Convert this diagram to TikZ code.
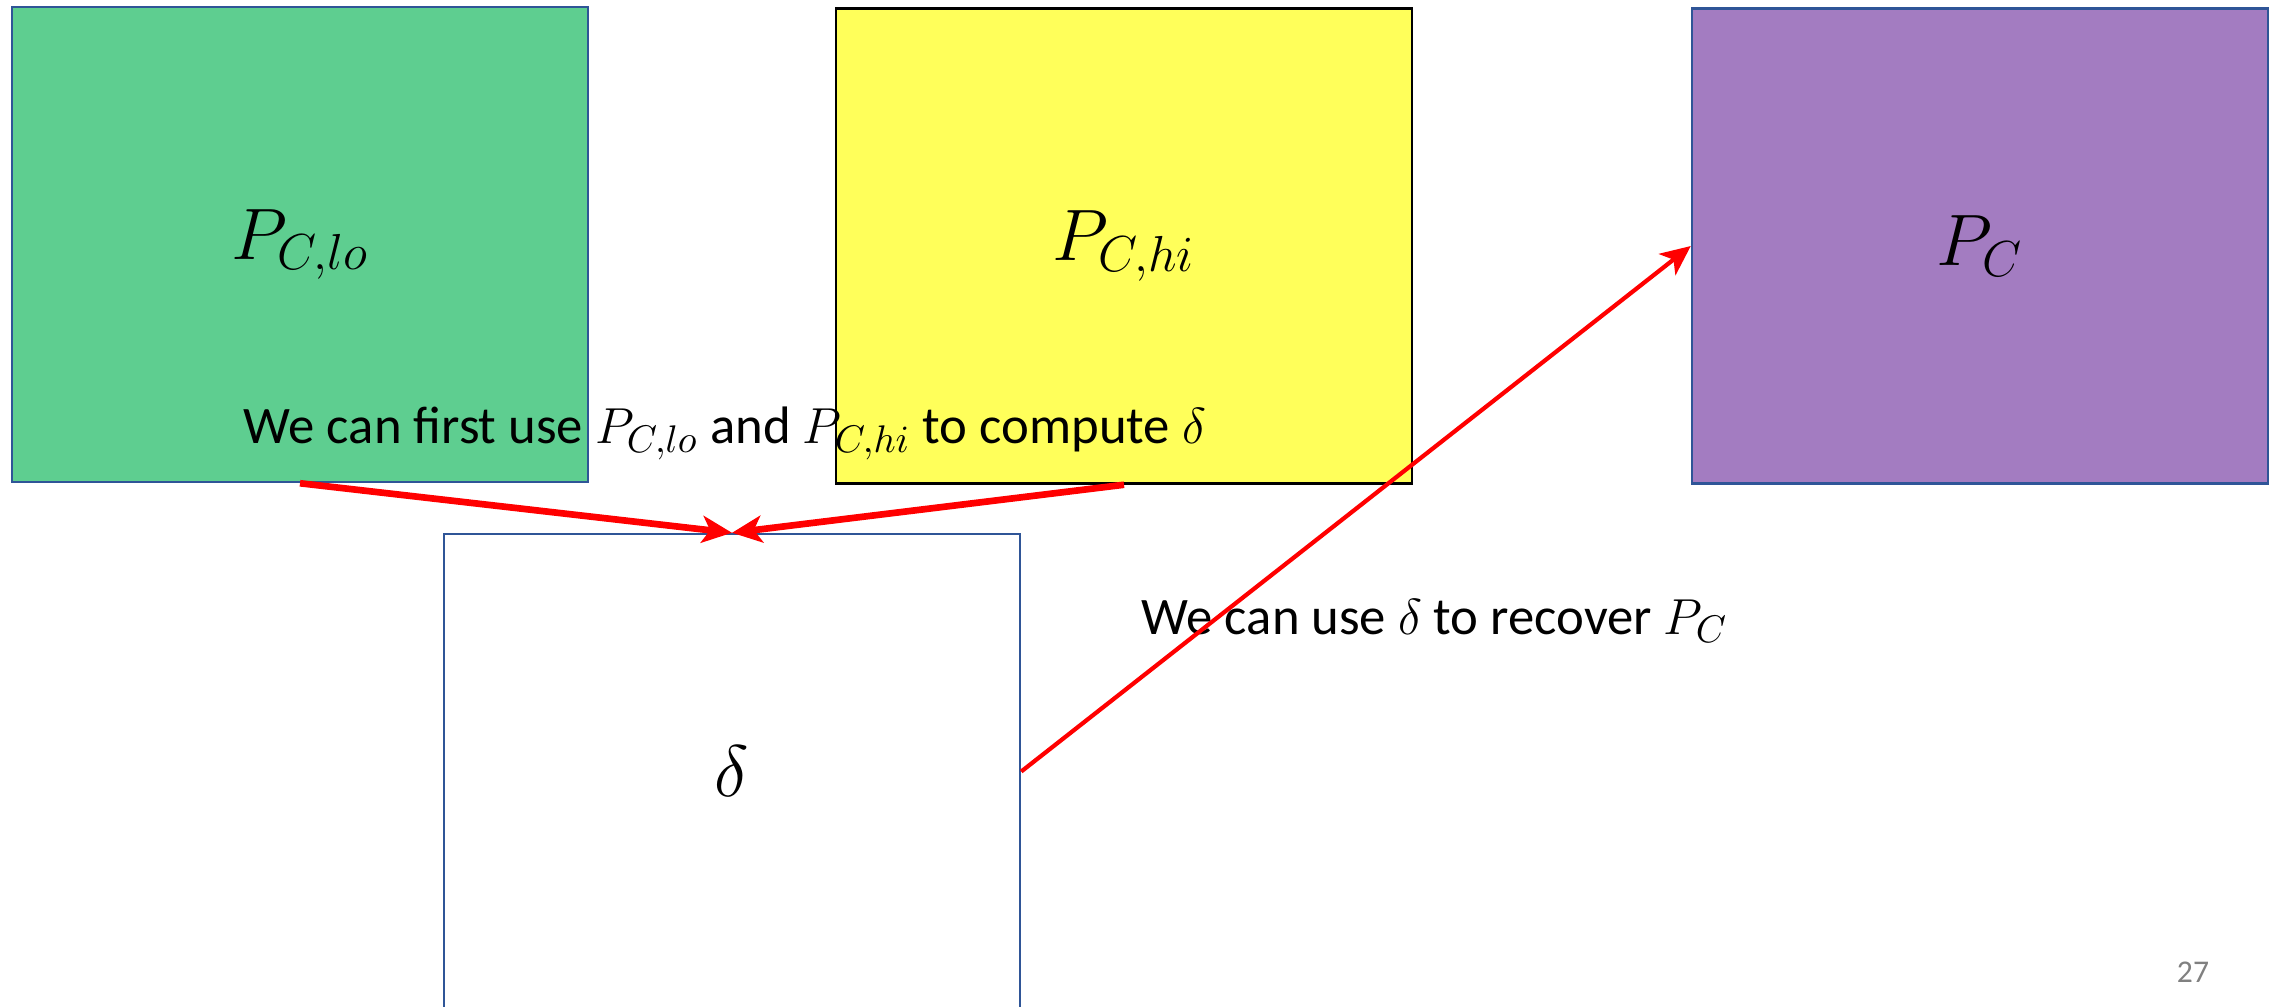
\documentclass[tikz,border=0pt]{standalone}
\usepackage{xcolor}
\usepackage{fontspec}
\setmainfont{Carlito}
\usepackage{tikz}
\usetikzlibrary{arrows.meta, positioning, calc}
\definecolor{panelgreen}{RGB}{94, 206, 144}
\definecolor{panelyellow}{RGB}{255, 255, 90}
\definecolor{panelpurple}{RGB}{163, 124, 193}
\definecolor{edgeblue}{RGB}{47, 85, 151}
\definecolor{arrowred}{RGB}{255, 0, 0}

\tikzset{
    panelbox/.style={draw=edgeblue, line width=0.7pt, minimum width=5.76cm,
          minimum height=4.75cm, inner sep=0pt, font=\fontsize{21}{25}\selectfont},
    flowarrow/.style={draw=arrowred, line width=1.9pt,
          -{Stealth[length=0.3cm, width=0.27cm, inset=0.08cm]}},
    notetext/.style={anchor=base west, inner sep=0pt, font=\fontsize{15}{18}\selectfont}
}

\begin{document}
\begin{tikzpicture}
    \useasboundingbox (0,0) rectangle (22.77,-10.06);
    % the three parts of the password
    \node[panelbox, fill=panelgreen] (lo) at (3.00,-2.445) {$P_{C,lo}$};
    \node[panelbox, fill=panelyellow, draw=black] (hi) at (11.24,-2.46) {$P_{C,hi}$};
    \node[panelbox, fill=panelpurple] (full) at (19.80,-2.46) {$P_C$};
    % difference box, runs off the slide
    \node[panelbox, fill=white] (delta) at (7.32,-7.715) {$\delta$};

    \node[notetext] (computenote) at (2.43,-4.43)
        {We can first use $P_{C,lo}$ and $P_{C,hi}$ to compute $\delta$};
    \node[notetext] (recovernote) at (11.41,-6.34)
        {We can use $\delta$ to recover $P_C$};

    \draw[flowarrow] (lo.south) -- (delta.north);
    \draw[flowarrow] (hi.south) -- (delta.north);
    \draw[flowarrow, line width=1.2pt] (delta.east) -- (full.west);

    \node[anchor=base, inner sep=0pt, text=gray, font=\fontsize{9}{11}\selectfont]
        (pagenum) at (21.93,-9.82) {27};
\end{tikzpicture}
\end{document}
